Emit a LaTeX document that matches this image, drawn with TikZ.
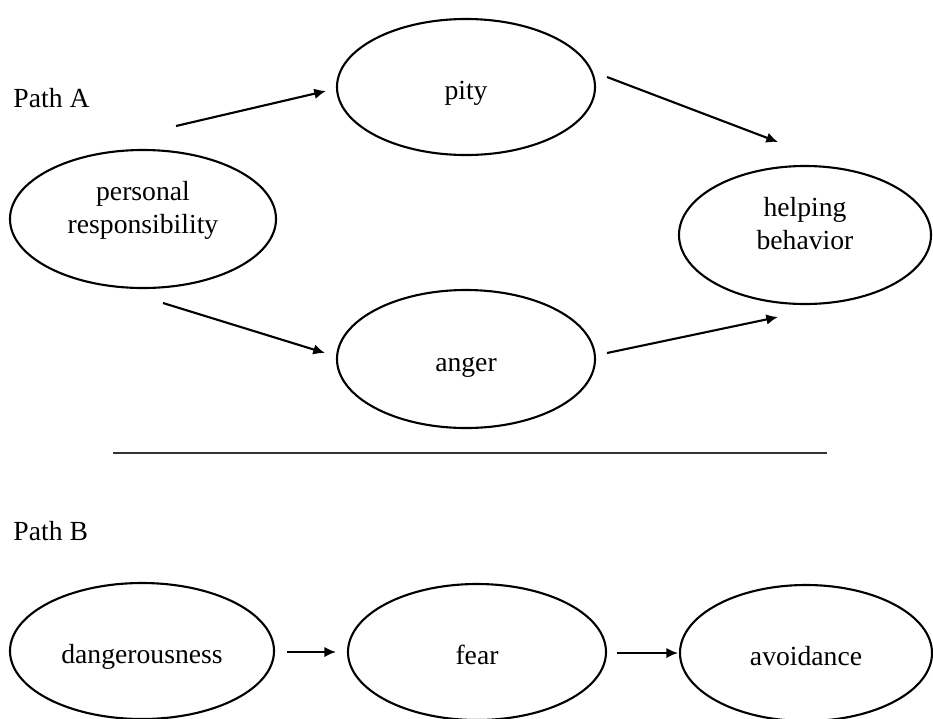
\documentclass[tikz,border=0pt]{standalone}
\usepackage{fontspec}
\setmainfont{Liberation Serif}
\usetikzlibrary{shapes.geometric,arrows.meta}

\tikzset{
  emo/.style={ellipse, draw, line width=0.9pt, inner sep=0pt, align=center},
  oneline/.style={emo, text height=11pt, text depth=0pt},
  link/.style={line width=0.9pt, -{Latex[length=5pt,width=4.5pt]}},
  pathlabel/.style={anchor=west, inner sep=0pt}
}

\begin{document}
\begin{tikzpicture}[x=0.015cm, y=-0.015cm, font=\fontsize{11.8pt}{14.1pt}\selectfont]

    \useasboundingbox (0,0) rectangle (933,718);

    % Path A
    \node[pathlabel] (labA) at (13,98) {Path A};

    \node[emo, minimum width=3.99cm, minimum height=2.07cm] (resp) at (143,219) {personal\\responsibility\\[-4pt]\mbox{}};
    \node[oneline, minimum width=3.87cm, minimum height=2.04cm] (pity) at (466,87) {pity};
    \node[oneline, minimum width=3.87cm, minimum height=2.07cm] (anger) at (466,359) {anger};
    \node[emo, minimum width=3.78cm, minimum height=2.07cm] (help) at (805,235) {helping\\behavior\\[-4pt]\mbox{}};

    % Estremi delle frecce
    \coordinate (rp1) at (176,126);
    \coordinate (rp2) at (326,91);
    \coordinate (ph1) at (607,77);
    \coordinate (ph2) at (778,142);
    \coordinate (ra1) at (163,303);
    \coordinate (ra2) at (325,353);
    \coordinate (ah1) at (607,353);
    \coordinate (ah2) at (778,317);

    \draw[link] (rp1) -- (rp2);
    \draw[link] (ph1) -- (ph2);
    \draw[link] (ra1) -- (ra2);
    \draw[link] (ah1) -- (ah2);

    % Separatore
    \coordinate (sepL) at (113,453);
    \coordinate (sepR) at (827,453);
    \draw[line width=1.1pt, black!80] (sepL) -- (sepR);

    % Path B
    \node[pathlabel] (labB) at (13,531) {Path B};

    \node[oneline, minimum width=3.96cm, minimum height=2.04cm] (dang) at (142,651) {dangerousness};
    \node[oneline, minimum width=3.87cm, minimum height=2.04cm] (fear) at (477,652) {fear};
    \node[oneline, minimum width=3.78cm, minimum height=2.04cm] (avoid) at (806,653) {avoidance};

    \coordinate (df1) at (287,652);
    \coordinate (df2) at (336,652);
    \coordinate (fa1) at (617,653);
    \coordinate (fa2) at (678,653);

    \draw[link] (df1) -- (df2);
    \draw[link] (fa1) -- (fa2);

\end{tikzpicture}
\end{document}
